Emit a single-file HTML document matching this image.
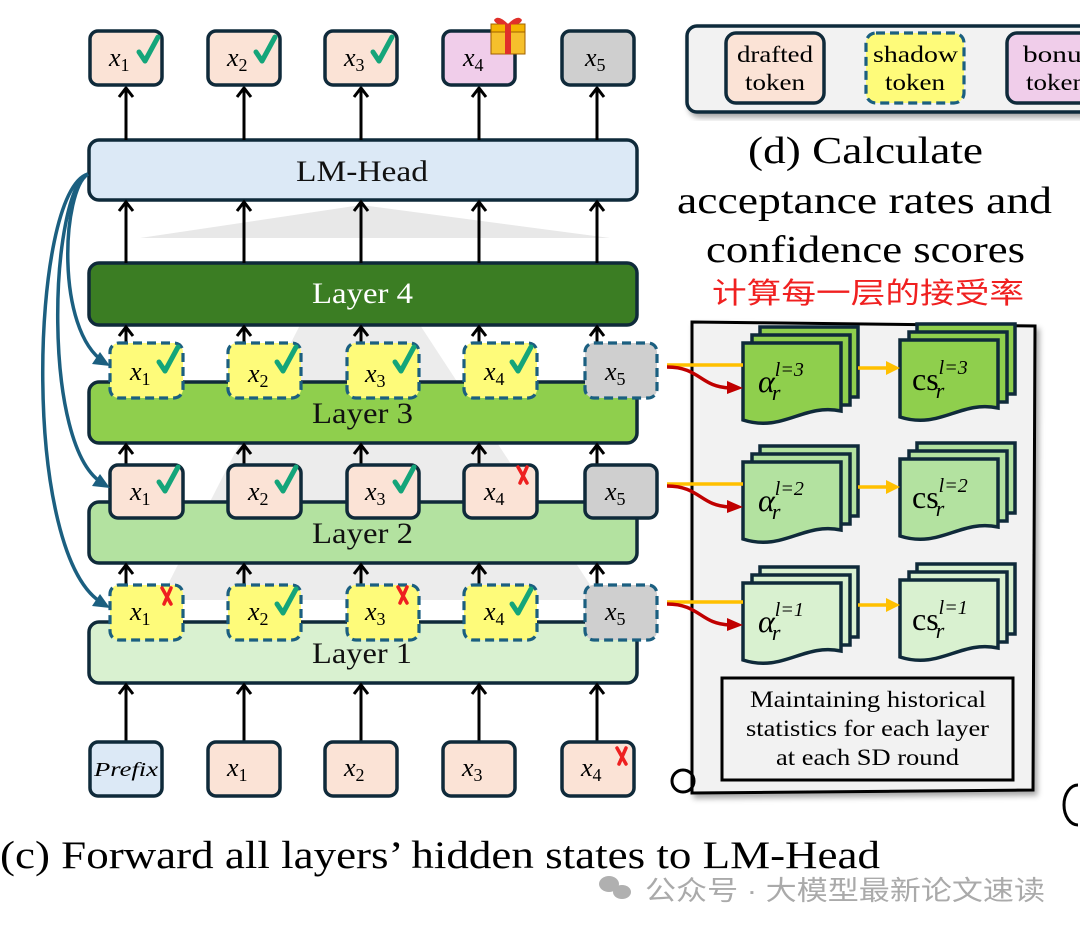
<!DOCTYPE html>
<html><head><meta charset="utf-8"><style>
html,body{margin:0;padding:0;background:#fff;width:1080px;height:935px;overflow:hidden}
svg text{font-family:"Liberation Serif","Noto Serif CJK SC",serif}
.m{font-style:italic;font-size:26px}
.s{font-size:18px;font-style:normal}
</style></head><body>
<svg width="1080" height="935" viewBox="0 0 1080 935" xmlns="http://www.w3.org/2000/svg">
<defs>
<filter id="sh" x="-5%" y="-5%" width="115%" height="115%"><feDropShadow dx="3" dy="4" stdDeviation="3" flood-opacity="0.35"/></filter>
<g id="col">
<line x1="0" y1="140" x2="0" y2="88"/><polyline points="-7,97 0,88 7,97"/>
<line x1="0" y1="263" x2="0" y2="202"/><polyline points="-7,211 0,202 7,211"/>
<line x1="0" y1="342" x2="0" y2="327"/><polyline points="-7,336 0,327 7,336"/>
<line x1="0" y1="464" x2="0" y2="445"/><polyline points="-7,454 0,445 7,454"/>
<line x1="0" y1="584" x2="0" y2="565"/><polyline points="-7,574 0,565 7,574"/>
<line x1="0" y1="742" x2="0" y2="685"/><polyline points="-7,694 0,685 7,694"/>
</g>
<path id="ck" d="M0,12 l6,9 l13,-24"/>
<path id="xx" d="M0,0 l9,16 M9,0 l-7,16"/>
<g id="st">
<rect x="17" y="-16" width="98" height="70" fill="var(--c)"/>
<rect x="9" y="-8" width="98" height="70" fill="var(--c)"/>
<path d="M0,0 H98 V68 C60,60 40,90 0,77 Z" fill="var(--c)"/>
</g>
<g id="cn">
<line x1="667" y1="0" x2="743" y2="0" stroke="#ffc000"/>
<path d="M667,2 C700,2 700,22 730,23" stroke="#c00000"/>
<line x1="858" y1="3" x2="890" y2="3" stroke="#ffc000"/>
</g>
</defs>

<!-- gray fans -->
<polygon points="361,205 140,238 610,238" fill="#e8e8e8"/>
<polygon points="300,325 420,325 600,600 160,600" fill="#ececec"/>

<!-- Layers -->
<rect x="89" y="140" width="548" height="60" rx="10" fill="#dce9f6" stroke="#0f2a3a" stroke-width="3.5"/>
<text x="296" y="181" font-size="30" textLength="132" lengthAdjust="spacingAndGlyphs" fill="#111">LM-Head</text>
<rect x="89" y="263" width="548" height="62" rx="10" fill="#3b7d23" stroke="#0f2a3a" stroke-width="3.5"/>
<text x="312" y="303" font-size="30" textLength="101" lengthAdjust="spacingAndGlyphs" fill="#fff">Layer 4</text>
<rect x="89" y="382" width="548" height="61" rx="10" fill="#8fcf4d" stroke="#0f2a3a" stroke-width="3.5"/>
<text x="312" y="423" font-size="30" textLength="101" lengthAdjust="spacingAndGlyphs" fill="#111">Layer 3</text>
<rect x="89" y="502" width="548" height="61" rx="10" fill="#b3e2a0" stroke="#0f2a3a" stroke-width="3.5"/>
<text x="312" y="543" font-size="30" textLength="101" lengthAdjust="spacingAndGlyphs" fill="#111">Layer 2</text>
<rect x="89" y="622" width="548" height="61" rx="10" fill="#d9f1d0" stroke="#0f2a3a" stroke-width="3.5"/>
<text x="312" y="663" font-size="30" textLength="100" lengthAdjust="spacingAndGlyphs" fill="#111">Layer 1</text>

<!-- arrows -->
<g stroke="#000" stroke-width="3" fill="none">
<use href="#col" x="126"/><use href="#col" x="244"/><use href="#col" x="361"/><use href="#col" x="479"/><use href="#col" x="597"/>
</g>

<!-- top tokens -->
<g stroke="#0f2a3a" stroke-width="3.5">
<rect x="90" y="31" width="72" height="54" rx="8" fill="#fbe3d6"/>
<rect x="208" y="31" width="72" height="54" rx="8" fill="#fbe3d6"/>
<rect x="325" y="31" width="72" height="54" rx="8" fill="#fbe3d6"/>
<rect x="443" y="31" width="72" height="54" rx="8" fill="#f0cdea"/>
<rect x="562" y="31" width="72" height="54" rx="8" fill="#cfcfcf"/>
</g>
<text class="m" x="109" y="66">x<tspan class="s" dy="5">1</tspan></text>
<text class="m" x="227" y="66">x<tspan class="s" dy="5">2</tspan></text>
<text class="m" x="344" y="66">x<tspan class="s" dy="5">3</tspan></text>
<text class="m" x="463" y="66">x<tspan class="s" dy="5">4</tspan></text>
<text class="m" x="585" y="66">x<tspan class="s" dy="5">5</tspan></text>
<!-- gift -->
<rect x="491" y="24" width="34" height="30" fill="#f6c02c" stroke="#a06000" stroke-width="1"/>
<rect x="491" y="24" width="34" height="8" fill="#f5b400" stroke="#a06000" stroke-width="1"/>
<rect x="505" y="24" width="6" height="30" fill="#e0302a"/>
<path d="M508,24 q-10,-10 -14,-4 q2,6 14,4 q10,-10 14,-4 q-2,6 -14,4" fill="#e0302a"/>

<!-- middle tokens -->
<g stroke="#1b5f80" stroke-width="3.2" stroke-dasharray="9,5">
<rect x="110" y="343" width="73" height="55" rx="9" fill="#fefb7a"/>
<rect x="228" y="343" width="73" height="55" rx="9" fill="#fefb7a"/>
<rect x="347" y="343" width="72" height="55" rx="9" fill="#fefb7a"/>
<rect x="464" y="343" width="73" height="55" rx="9" fill="#fefb7a"/>
<rect x="585" y="343" width="72" height="55" rx="9" fill="#cfcfcf"/>
<rect x="110" y="585" width="73" height="55" rx="9" fill="#fefb7a"/>
<rect x="228" y="585" width="73" height="55" rx="9" fill="#fefb7a"/>
<rect x="347" y="585" width="72" height="55" rx="9" fill="#fefb7a"/>
<rect x="464" y="585" width="73" height="55" rx="9" fill="#fefb7a"/>
<rect x="585" y="585" width="72" height="55" rx="9" fill="#cfcfcf"/>
</g>
<g stroke="#0f2a3a" stroke-width="3.5">
<rect x="110" y="465" width="73" height="53" rx="8" fill="#fbe3d6"/>
<rect x="228" y="465" width="73" height="53" rx="8" fill="#fbe3d6"/>
<rect x="347" y="465" width="72" height="53" rx="8" fill="#fbe3d6"/>
<rect x="464" y="465" width="73" height="53" rx="8" fill="#fbe3d6"/>
<rect x="585" y="465" width="72" height="53" rx="8" fill="#cfcfcf"/>
</g>
<g>
<text class="m" x="130" y="380">x<tspan class="s" dy="5">1</tspan></text>
<text class="m" x="248" y="382">x<tspan class="s" dy="5">2</tspan></text>
<text class="m" x="365" y="382">x<tspan class="s" dy="5">3</tspan></text>
<text class="m" x="484" y="380">x<tspan class="s" dy="5">4</tspan></text>
<text class="m" x="605" y="380">x<tspan class="s" dy="5">5</tspan></text>
<text class="m" x="130" y="500">x<tspan class="s" dy="5">1</tspan></text>
<text class="m" x="248" y="500">x<tspan class="s" dy="5">2</tspan></text>
<text class="m" x="365" y="500">x<tspan class="s" dy="5">3</tspan></text>
<text class="m" x="484" y="500">x<tspan class="s" dy="5">4</tspan></text>
<text class="m" x="605" y="500">x<tspan class="s" dy="5">5</tspan></text>
<text class="m" x="130" y="620">x<tspan class="s" dy="5">1</tspan></text>
<text class="m" x="248" y="620">x<tspan class="s" dy="5">2</tspan></text>
<text class="m" x="365" y="620">x<tspan class="s" dy="5">3</tspan></text>
<text class="m" x="484" y="620">x<tspan class="s" dy="5">4</tspan></text>
<text class="m" x="605" y="620">x<tspan class="s" dy="5">5</tspan></text>
</g>

<!-- bottom tokens -->
<g stroke="#0f2a3a" stroke-width="3.5">
<rect x="90" y="742" width="72" height="54" rx="8" fill="#dce9f6"/>
<rect x="208" y="742" width="72" height="54" rx="8" fill="#fbe3d6"/>
<rect x="325" y="742" width="72" height="54" rx="8" fill="#fbe3d6"/>
<rect x="443" y="742" width="72" height="54" rx="8" fill="#fbe3d6"/>
<rect x="562" y="742" width="72" height="54" rx="8" fill="#fbe3d6"/>
</g>
<text x="94" y="776" font-size="20" font-style="italic" textLength="64" lengthAdjust="spacingAndGlyphs">Prefix</text>
<text class="m" x="227" y="776">x<tspan class="s" dy="5">1</tspan></text>
<text class="m" x="344" y="776">x<tspan class="s" dy="5">2</tspan></text>
<text class="m" x="462" y="776">x<tspan class="s" dy="5">3</tspan></text>
<text class="m" x="581" y="776">x<tspan class="s" dy="5">4</tspan></text>

<!-- checks -->
<g stroke="#14a57a" stroke-width="5" fill="none" stroke-linecap="round" stroke-linejoin="round">
<use href="#ck" x="139" y="40"/><use href="#ck" x="256" y="40"/><use href="#ck" x="373" y="40"/>
<use href="#ck" x="159" y="350"/><use href="#ck" x="277" y="350"/><use href="#ck" x="395" y="350"/><use href="#ck" x="512" y="350"/>
<use href="#ck" x="159" y="470"/><use href="#ck" x="277" y="470"/><use href="#ck" x="395" y="470"/>
<use href="#ck" x="277" y="592"/><use href="#ck" x="512" y="592"/>
</g>
<g stroke="#ee2020" stroke-width="3.5" stroke-linecap="round">
<use href="#xx" x="162" y="588"/><use href="#xx" x="398" y="587"/><use href="#xx" x="518" y="467"/><use href="#xx" x="617" y="748"/>
</g>

<!-- blue curves -->
<g stroke="#1b5f80" stroke-width="3.5" fill="none">
<path d="M88,174 C62,190 55,330 104,362"/>
<path d="M88,174 C50,190 40,450 104,484"/>
<path d="M88,174 C30,190 20,560 104,604"/>
</g>
<g fill="#1b5f80">
<polygon points="110,366 92,364 100,352"/>
<polygon points="110,488 92,486 100,474"/>
<polygon points="110,608 92,606 100,594"/>
</g>

<!-- legend -->
<rect x="687" y="26" width="420" height="86" rx="10" fill="#f2f2f2" stroke="#0f2a3a" stroke-width="3.5" filter="url(#sh)"/>
<rect x="726" y="33" width="98" height="70" rx="10" fill="#fbe3d6" stroke="#0f2a3a" stroke-width="3.5"/>
<text x="737" y="62" font-size="23" textLength="76" lengthAdjust="spacingAndGlyphs">drafted</text>
<text x="745" y="90" font-size="23" textLength="60" lengthAdjust="spacingAndGlyphs">token</text>
<rect x="866" y="33" width="98" height="70" rx="10" fill="#fefb7a" stroke="#1b5f80" stroke-width="3.2" stroke-dasharray="9,5"/>
<text x="873" y="62" font-size="23" textLength="85" lengthAdjust="spacingAndGlyphs">shadow</text>
<text x="885" y="90" font-size="23" textLength="60" lengthAdjust="spacingAndGlyphs">token</text>
<rect x="1007" y="33" width="98" height="70" rx="10" fill="#f0cdea" stroke="#0f2a3a" stroke-width="3.5"/>
<text x="1023" y="62" font-size="23" textLength="70" lengthAdjust="spacingAndGlyphs">bonus</text>
<text x="1026" y="90" font-size="23" textLength="60" lengthAdjust="spacingAndGlyphs">token</text>

<text x="748" y="163" font-size="38" textLength="235" lengthAdjust="spacingAndGlyphs">(d) Calculate</text>
<text x="677" y="213" font-size="38" textLength="375" lengthAdjust="spacingAndGlyphs">acceptance rates and</text>
<text x="706" y="262" font-size="38" textLength="319" lengthAdjust="spacingAndGlyphs">confidence scores</text>
<text x="712" y="303" font-size="29" textLength="312" lengthAdjust="spacingAndGlyphs" fill="#f02020" style="font-family:'Liberation Sans','Noto Sans CJK SC',sans-serif">计算每一层的接受率</text>

<!-- scroll -->
<path d="M692,322 L1035,326 L1033,790 L692,793 Z" fill="#f2f2f2" stroke="#000" stroke-width="3" filter="url(#sh)"/>
<circle cx="683" cy="781" r="11" fill="none" stroke="#000" stroke-width="3"/>
<rect x="722" y="678" width="291" height="102" fill="none" stroke="#000" stroke-width="3"/>
<text x="750" y="707" font-size="23" textLength="236" lengthAdjust="spacingAndGlyphs">Maintaining historical</text>
<text x="746" y="736" font-size="23" textLength="243" lengthAdjust="spacingAndGlyphs">statistics for each layer</text>
<text x="776" y="765" font-size="23" textLength="183" lengthAdjust="spacingAndGlyphs">at each SD round</text>

<!-- stacks -->
<g stroke="#0f2a3a" stroke-width="3.5">
<use href="#st" x="743" y="343" style="--c:#8fcf4d"/>
<use href="#st" x="900" y="340" style="--c:#8fcf4d"/>
<use href="#st" x="743" y="462" style="--c:#b3e2a0"/>
<use href="#st" x="900" y="459" style="--c:#b3e2a0"/>
<use href="#st" x="743" y="583" style="--c:#d9f1d0"/>
<use href="#st" x="900" y="580" style="--c:#d9f1d0"/>
</g>
<g font-size="32">
<text x="758" y="392" font-style="italic">α<tspan font-size="20" dy="-16">l=3</tspan><tspan font-size="22" dx="-32" dy="24">r</tspan></text>
<text x="912" y="390">cs<tspan font-size="20" dy="-16" font-style="italic">l=3</tspan><tspan font-size="22" dx="-32" dy="24" font-style="italic">r</tspan></text>
<text x="758" y="511" font-style="italic">α<tspan font-size="20" dy="-16">l=2</tspan><tspan font-size="22" dx="-32" dy="24">r</tspan></text>
<text x="912" y="508">cs<tspan font-size="20" dy="-16" font-style="italic">l=2</tspan><tspan font-size="22" dx="-32" dy="24" font-style="italic">r</tspan></text>
<text x="758" y="632" font-style="italic">α<tspan font-size="20" dy="-16">l=1</tspan><tspan font-size="22" dx="-32" dy="24">r</tspan></text>
<text x="912" y="630">cs<tspan font-size="20" dy="-16" font-style="italic">l=1</tspan><tspan font-size="22" dx="-32" dy="24" font-style="italic">r</tspan></text>
</g>

<!-- orange/red connectors -->
<g fill="none" stroke-width="3.5">
<use href="#cn" y="365"/><use href="#cn" y="484"/><use href="#cn" y="602"/>
</g>
<g>
<polygon points="743,388 727,381 727,394" fill="#c00000"/>
<polygon points="900,368 886,361 886,375" fill="#ffc000"/>
<polygon points="743,507 727,500 727,513" fill="#c00000"/>
<polygon points="900,487 886,480 886,494" fill="#ffc000"/>
<polygon points="743,625 727,618 727,631" fill="#c00000"/>
<polygon points="900,605 886,598 886,612" fill="#ffc000"/>
</g>
<path d="M1078,785 a14,20 0 0 0 0,40" fill="none" stroke="#000" stroke-width="3"/>

<!-- captions -->
<text x="0" y="868" font-size="39" textLength="880" lengthAdjust="spacingAndGlyphs">(c) Forward all layers’ hidden states to LM-Head</text>
<g fill="#b0b0b0">
<ellipse cx="609" cy="884" rx="10" ry="8"/><ellipse cx="622" cy="892" rx="9" ry="7"/>
</g>
<text x="645" y="900" font-size="27" textLength="400" lengthAdjust="spacingAndGlyphs" fill="#aaaaaa" style="font-family:'Liberation Sans','Noto Sans CJK SC',sans-serif">公众号 · 大模型最新论文速读</text>
</svg>
</body></html>
